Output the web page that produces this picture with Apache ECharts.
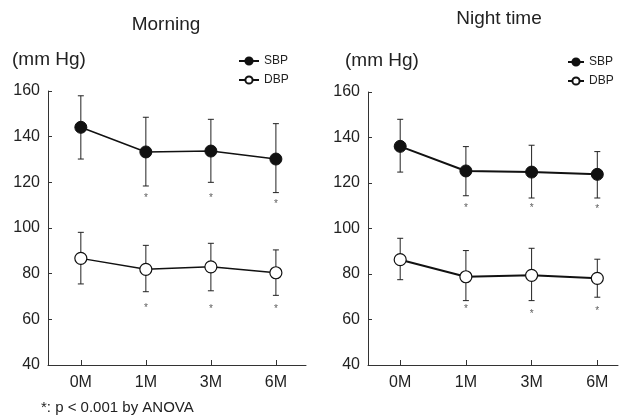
<!DOCTYPE html>
<html>
<head>
<meta charset="utf-8">
<script src="https://cdn.jsdelivr.net/npm/echarts@6/dist/echarts.min.js"></script>
<style>html,body{margin:0;padding:0;background:#fff;}#c{width:619px;height:419px;}</style>
</head>
<body>
<div id="c"></div>
<script>
const xLabels = ['0M', '1M', '3M', '6M'];
const yTicks = [40, 60, 80, 100, 120, 140, 160];

const morningSBP = [144.1, 133.3, 133.7, 130.2];
const morningSBPHigh = [157.9, 148.5, 147.6, 145.7];
const morningSBPLow = [130.2, 118.4, 120.0, 115.5];
const morningDBP = [86.7, 81.9, 83.0, 80.4];
const morningDBPHigh = [98.1, 92.4, 93.3, 90.4];
const morningDBPLow = [75.5, 72.1, 72.5, 70.5];
const morningSBPStar = [null, 114.0, 114.0, 111.4];
const morningDBPStar = [null, 65.8, 65.2, 65.2];

const nightSBP = [136.1, 125.3, 124.8, 123.8];
const nightSBPHigh = [148.0, 136.0, 136.6, 133.8];
const nightSBPLow = [124.8, 114.4, 113.4, 113.4];
const nightDBP = [86.3, 78.8, 79.4, 78.1];
const nightDBPHigh = [95.7, 90.3, 91.3, 86.5];
const nightDBPLow = [77.5, 68.3, 68.3, 69.8];
const nightSBPStar = [null, 110.0, 110.0, 109.3];
const nightDBPStar = [null, 65.4, 63.4, 64.6];

const FONT = "'Liberation Sans', Arial, Helvetica, sans-serif";
const idx = xLabels.map((_, i) => i);

function pts(vals) { return vals.map((v, i) => [i, v]); }
function errData(hi, lo) { return hi.map((h, i) => [i, h, lo[i]]); }
function starData(vals) { return vals.map((v, i) => v == null ? null : [i, v]).filter(d => d); }

function errorSeries(hi, lo, g) {
  return {
    type: 'custom', xAxisIndex: g, yAxisIndex: g, z: 1, silent: true,
    encode: { x: 0, y: [1, 2] },
    data: errData(hi, lo),
    renderItem: function (params, api) {
      const x = api.value(0);
      const a = api.coord([x, api.value(1)]);
      const b = api.coord([x, api.value(2)]);
      const w = 3;
      const st = { stroke: '#222', lineWidth: 1 };
      return { type: 'group', children: [
        { type: 'line', shape: { x1: a[0], y1: a[1], x2: b[0], y2: b[1] }, style: st },
        { type: 'line', shape: { x1: a[0] - w, y1: a[1], x2: a[0] + w, y2: a[1] }, style: st },
        { type: 'line', shape: { x1: b[0] - w, y1: b[1], x2: b[0] + w, y2: b[1] }, style: st }
      ]};
    }
  };
}
function lineSeries(name, vals, g, filled, lw) {
  return {
    name: name, type: 'line', xAxisIndex: g, yAxisIndex: g, z: 3,
    data: pts(vals), symbol: 'circle', symbolSize: 12,
    lineStyle: { color: '#111', width: lw },
    itemStyle: filled ? { color: '#111', borderColor: '#111', borderWidth: 1 }
                      : { color: '#fff', borderColor: '#111', borderWidth: 1.2 },
    emphasis: { disabled: true }
  };
}
function starSeries(vals, g) {
  return {
    type: 'scatter', xAxisIndex: g, yAxisIndex: g, z: 4, silent: true,
    data: starData(vals), symbolSize: 1, itemStyle: { color: 'transparent' },
    label: { show: true, formatter: '*', position: 'inside', fontSize: 10, color: '#333', fontFamily: FONT, offset: [0, 2] }
  };
}
function xAxis(g, min, max) {
  return {
    type: 'value', gridIndex: g, min: min, max: max,
    axisLine: { show: true, onZero: false, lineStyle: { color: '#333', width: 1 } },
    axisTick: { show: true, inside: true, length: 5, customValues: idx, lineStyle: { color: '#333' } },
    axisLabel: { customValues: idx, formatter: v => xLabels[Math.round(v)], fontSize: 16, color: '#222', fontFamily: FONT, margin: 10 },
    splitLine: { show: false }
  };
}
function yAxis(g) {
  return {
    type: 'value', gridIndex: g, min: yTicks[0], max: yTicks[yTicks.length - 1], interval: 20,
    axisLine: { show: true, onZero: false, lineStyle: { color: '#333', width: 1 } },
    axisTick: { show: true, inside: true, length: 4, lineStyle: { color: '#333' } },
    axisLabel: { fontSize: 16, color: '#222', fontFamily: FONT, margin: 8 },
    splitLine: { show: false }
  };
}
function legend(left, top, iw) {
  return {
    left: left, top: top, orient: 'vertical', padding: 0, itemGap: 5,
    itemWidth: iw, itemHeight: 9, selectedMode: false,
    textStyle: { fontSize: 12, color: '#222', fontFamily: FONT, lineHeight: 14 },
    data: ['SBP', 'DBP']
  };
}
function txt(text, x, y, size, align) {
  return { type: 'text', x: x, y: y, style: { text: text, font: size + 'px ' + FONT, fill: '#222', textAlign: align, textVerticalAlign: 'middle' } };
}

const chart = echarts.init(document.getElementById('c'), null, { renderer: 'canvas' });
chart.setOption({
  animation: false,
  backgroundColor: '#fff',
  grid: [
    { left: 48, top: 91, width: 258, height: 274 },
    { left: 368, top: 92, width: 250, height: 273 }
  ],
  xAxis: [xAxis(0, -0.505, 3.463), xAxis(1, -0.49, 3.315)],
  yAxis: [yAxis(0), yAxis(1)],
  legend: [legend(238, 54, 20), legend(567, 55, 16)],
  graphic: [
    txt('Morning', 166, 25, 19, 'center'),
    txt('Night time', 499, 19, 19, 'center'),
    txt('(mm Hg)', 12, 60, 19, 'left'),
    txt('(mm Hg)', 345, 61, 19, 'left'),
    txt('*: p < 0.001 by ANOVA', 41, 408, 15, 'left')
  ],
  series: [
    errorSeries(morningSBPHigh, morningSBPLow, 0),
    errorSeries(morningDBPHigh, morningDBPLow, 0),
    lineSeries('SBP', morningSBP, 0, true, 1.5),
    lineSeries('DBP', morningDBP, 0, false, 1.5),
    starSeries(morningSBPStar, 0),
    starSeries(morningDBPStar, 0),
    errorSeries(nightSBPHigh, nightSBPLow, 1),
    errorSeries(nightDBPHigh, nightDBPLow, 1),
    lineSeries('SBP', nightSBP, 1, true, 2),
    lineSeries('DBP', nightDBP, 1, false, 2),
    starSeries(nightSBPStar, 1),
    starSeries(nightDBPStar, 1)
  ]
});
</script>
</body>
</html>
